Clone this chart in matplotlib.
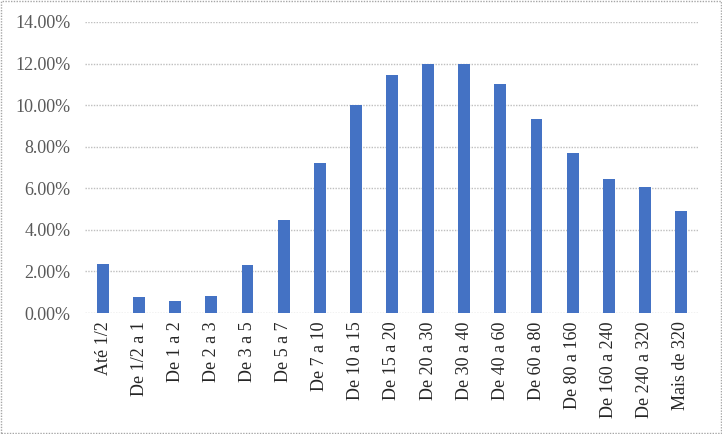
import matplotlib.pyplot as plt
from matplotlib.ticker import FuncFormatter
from matplotlib.patches import Rectangle

plt.rcParams['font.family'] = ['Liberation Serif', 'DejaVu Serif']

faixas = ['Até 1/2', 'De 1/2 a 1', 'De 1 a 2', 'De 2 a 3', 'De 3 a 5', 'De 5 a 7',
          'De 7 a 10', 'De 10 a 15', 'De 15 a 20', 'De 20 a 30', 'De 30 a 40',
          'De 40 a 60', 'De 60 a 80', 'De 80 a 160', 'De 160 a 240',
          'De 240 a 320', 'Mais de 320']
percentuais = [2.36, 0.77, 0.58, 0.84, 2.31, 4.47, 7.20, 10.02, 11.44, 12.00,
               12.00, 11.04, 9.33, 7.71, 6.46, 6.04, 4.89]
ticks_y = [0, 2, 4, 6, 8, 10, 12, 14]

fig = plt.figure(figsize=(7.22, 4.34), dpi=100)
ax = fig.add_axes([85/722, 1-313/434, 614/722, 291/434])

x = range(len(faixas))
ax.bar(x, percentuais, width=0.33, color='#4472C4', zorder=3)

ax.set_xlim(-0.5, len(faixas)-0.5)
ax.set_ylim(0, 14)
ax.set_yticks(ticks_y)
ax.yaxis.set_major_formatter(FuncFormatter(lambda v, p: '%.2f%%' % v))
ax.set_xticks(list(x))
ax.set_xticklabels(faixas, rotation=90)
ax.tick_params(length=0, labelsize=13)
ax.tick_params(axis='y', colors='#595959', pad=10.5)
ax.tick_params(axis='x', colors='#262626', pad=6)
ax.grid(axis='y', color='#bfbfbf', linestyle=(0, (1, 1)), linewidth=1, zorder=0)
for s in ['top', 'right', 'left', 'bottom']:
    ax.spines[s].set_visible(False)

# borda pontilhada da figura
fig.patches.append(Rectangle((0.001, 0.002), 0.997, 0.996, transform=fig.transFigure,
                             fill=False, edgecolor='#a6a6a6', linestyle=(0, (1, 1)),
                             linewidth=1))

fig.savefig('out.png', dpi=100)
